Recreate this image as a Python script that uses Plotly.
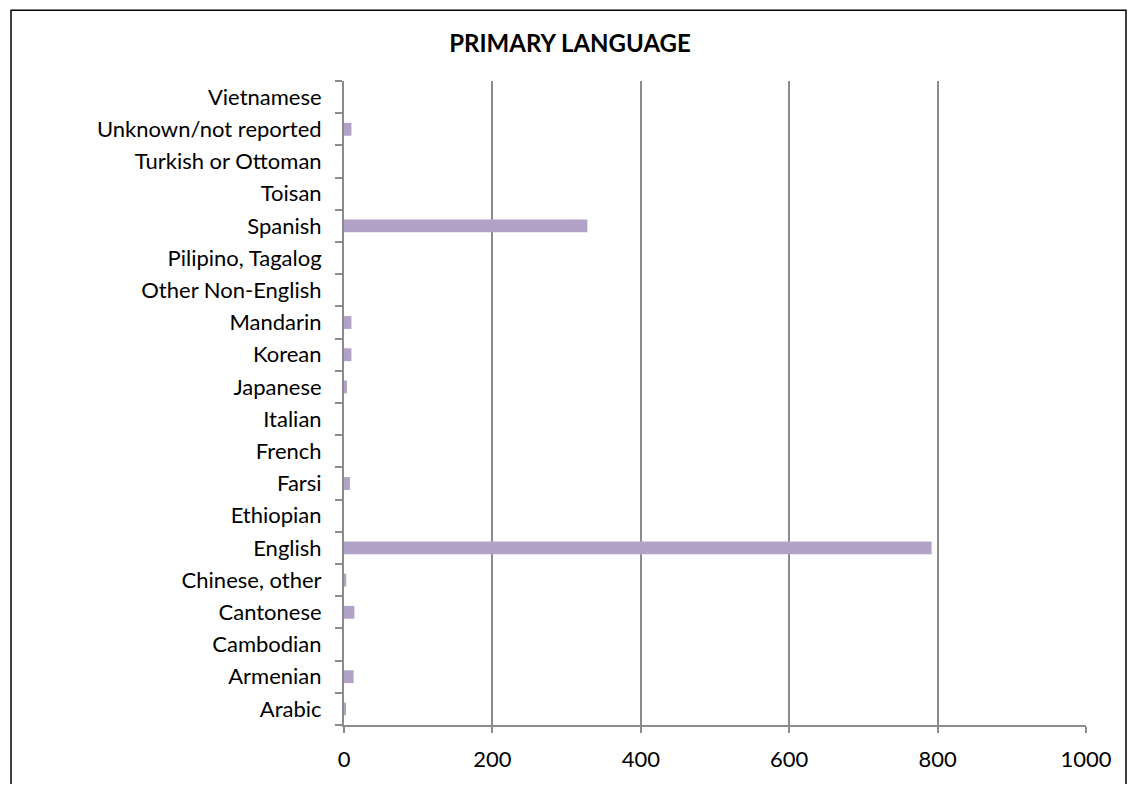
import plotly.graph_objects as go

categories = [
    "Arabic", "Armenian", "Cambodian", "Cantonese", "Chinese, other",
    "English", "Ethiopian", "Farsi", "French", "Italian", "Japanese",
    "Korean", "Mandarin", "Other Non-English", "Pilipino, Tagalog",
    "Spanish", "Toisan", "Turkish or Ottoman", "Unknown/not reported",
    "Vietnamese",
]
counts = [2, 13, 0, 14, 3, 792, 0, 8, 0, 0, 4, 10, 10, 0, 0, 328, 0, 0, 10, 0]
x_ticks = [0, 200, 400, 600, 800, 1000]
title_text = "PRIMARY LANGUAGE"

# The page body has an 8px margin, so the figure is placed at (8, 8).
OFF = 8
W, H = 1135 - 2 * OFF, 792 - 2 * OFF
PLOT_LEFT, PLOT_RIGHT, PLOT_TOP, PLOT_BOTTOM = 344, 1086, 81, 737
ML = PLOT_LEFT - OFF
MR = W - (PLOT_RIGHT - OFF)
MT = PLOT_TOP - OFF
MB = H - (PLOT_BOTTOM - OFF)
PW, PH = W - ML - MR, H - MT - MB


def px_x(p):
    return (p - OFF - ML) / PW


def px_y(p):
    return (H - MB - (p - OFF)) / PH


font_family = "Lato, 'Open Sans', sans-serif"

fig = go.Figure()
fig.add_trace(go.Bar(
    x=counts, y=categories, orientation="h",
    marker=dict(color="#B3A2C7", line=dict(width=0)),
    hoverinfo="x+y",
))

fig.update_layout(
    width=W, height=H,
    margin=dict(l=ML, r=MR, t=MT, b=MB, pad=0),
    paper_bgcolor="white", plot_bgcolor="white",
    bargap=0.6,
    showlegend=False,
    font=dict(family=font_family, size=22, color="#000000"),
    title=dict(
        text="<b>" + title_text + "</b>",
        x=(570 - OFF) / W, xref="container", xanchor="center",
        y=1 - (44 - OFF) / H, yref="container", yanchor="middle",
        font=dict(family=font_family, size=24, color="#000000"),
    ),
)

fig.update_xaxes(
    range=[0, 1000], tickvals=x_ticks, ticktext=[str(v) for v in x_ticks],
    showgrid=True, gridcolor="#8C8C8C", gridwidth=2,
    showline=True, linecolor="#8C8C8C", linewidth=2,
    ticks="outside", ticklen=6, tickcolor="#8C8C8C", tickwidth=2,
    zeroline=False, fixedrange=True,
    tickfont=dict(family=font_family, size=22, color="#000000"),
    ticklabelstandoff=8,
)
fig.update_yaxes(
    type="category", categoryorder="array", categoryarray=categories,
    showgrid=False,
    showline=True, linecolor="#8C8C8C", linewidth=2,
    ticks="outside", ticklen=7, tickcolor="#8C8C8C", tickwidth=2,
    tickson="boundaries",
    ticklabelstandoff=16,
    tickfont=dict(family=font_family, size=22, color="#000000"),
    fixedrange=True,
)

fig.add_shape(
    type="rect", xref="paper", yref="paper",
    x0=px_x(11), x1=px_x(1126), y0=px_y(800), y1=px_y(9),
    line=dict(color="#000000", width=1.5), fillcolor="rgba(0,0,0,0)",
    layer="below",
)

fig.write_html("out.html")
